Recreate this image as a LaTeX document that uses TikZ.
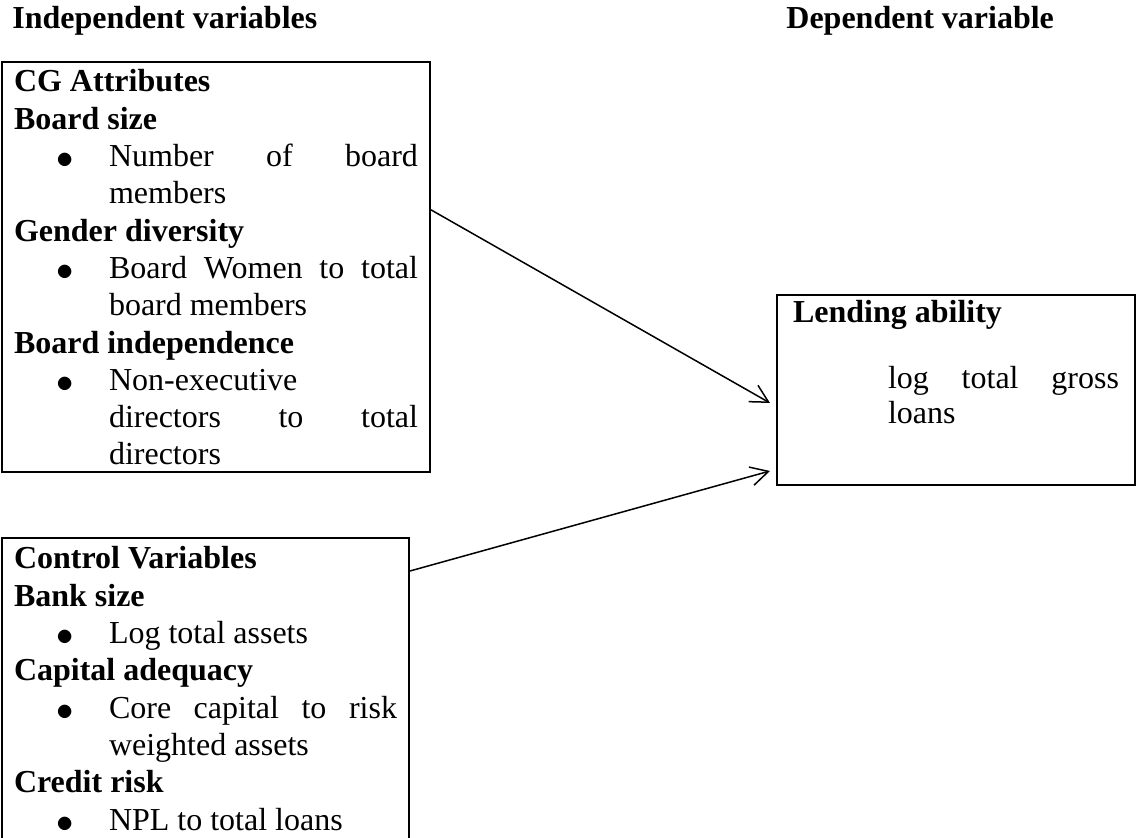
\documentclass[tikz,border=0pt]{standalone}
\usepackage{fontspec}
\setmainfont{Liberation Serif}
\usetikzlibrary{arrows.meta}
\setlength{\parindent}{0pt}
\hyphenpenalty=10000
\exhyphenpenalty=10000
\newcommand{\bulitem}[1]{{\leftskip=47.5pt\noindent\llap{\raisebox{-1.2pt}{$\bullet$}\hspace{17.5pt}}#1\par}}

\begin{document}
\begin{tikzpicture}[
    x=0.5pt, y=-0.5pt,
    >={Straight Barb[length=8.8pt,width=9.4pt]},
    head/.style={anchor=base west, inner sep=0pt, font=\fontsize{16}{18.65}\selectfont\bfseries},
    varbox/.style={draw, line width=1pt, anchor=north west, inner ysep=0pt, inner xsep=6pt, align=justify, font=\fontsize{16}{18.65}\selectfont},
    link/.style={->, line width=0.75pt}
]
\useasboundingbox (0,0) rectangle (1136,838);

% Column titles
\node[head] (indep) at (12,29) {Independent variables};
\node[head] (dep) at (786,29) {Dependent variable};

% CG attributes
\node[varbox, text width=202pt] (cg) at (1,61) {%
    \rule{0pt}{15pt}\textbf{CG Attributes}\par
    \textbf{Board size}\par
    \bulitem{Number of board\linebreak members}
    \textbf{Gender diversity}\par
    \bulitem{Board Women to total\linebreak board members}
    \textbf{Board independence}\par
    \bulitem{Non-executive\linebreak directors to total\linebreak directors\rule[-3.35pt]{0pt}{0pt}}
};

% Control variables (runs off the page)
\node[varbox, text width=191.5pt] (ctrl) at (1,537) {%
    \rule{0pt}{15.5pt}\textbf{Control Variables}\par
    \textbf{Bank size}\par
    \bulitem{Log total assets}
    \textbf{Capital adequacy}\par
    \bulitem{Core capital to risk\linebreak weighted assets}
    \textbf{Credit risk}\par
    \bulitem{NPL to total loans\rule[-12pt]{0pt}{0pt}}
};

% Lending ability
\node[varbox, inner xsep=8pt, text width=163pt, font=\fontsize{16}{17.5}\selectfont] (lend) at (776,294) {%
    \rule{0pt}{14pt}\textbf{Lending ability}\par
    \vspace{15.5pt}
    {\leftskip=47.5pt log total gross\linebreak loans\rule[-30.5pt]{0pt}{0pt}\par}
};

% Arrows
\draw[link] ([yshift=28.5pt]cg.east) -- ([xshift=-3pt,yshift=-6.5pt]lend.west);
\draw[link] ([yshift=-17pt]ctrl.north east) -- ([xshift=-3pt,yshift=-40.5pt]lend.west);

\end{tikzpicture}
\end{document}
